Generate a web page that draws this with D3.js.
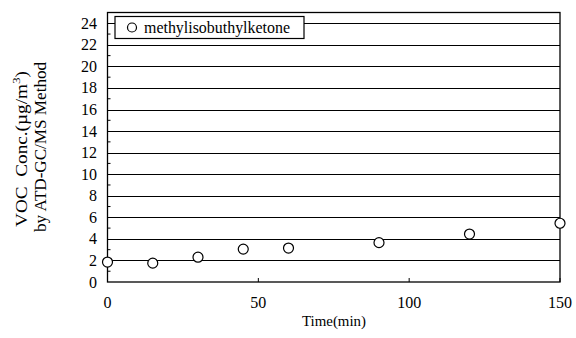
<!DOCTYPE html>
<html>
<head>
<meta charset="utf-8">
<script src="https://cdn.jsdelivr.net/npm/d3@7"></script>
<style>
body { margin:0; background:#fff; }
text { font-family: "Liberation Serif", "DejaVu Serif", serif; fill:#000; }
</style>
</head>
<body>
<script>
// data
var times = [0, 15, 30, 45, 60, 90, 120, 150];
var conc = [1.85, 1.75, 2.3, 3.05, 3.15, 3.65, 4.45, 5.45];
var yTicks = [0, 2, 4, 6, 8, 10, 12, 14, 16, 18, 20, 22, 24];
var xTicks = [0, 50, 100, 150];
var seriesName = "methylisobuthylketone";

var w = 576, h = 338;
var svg = d3.select("body").append("svg").attr("width", w).attr("height", h);

var x = d3.scaleLinear().domain([0, 150]).range([107.5, 560]);
var y = d3.scaleLinear().domain([0, 25]).range([282, 12.5]);

// gridlines
svg.selectAll("line.grid")
   .data(yTicks.filter(function(d){ return d > 0; }))
   .enter().append("line")
   .attr("x1", x(0)).attr("x2", x(150))
   .attr("y1", function(d){ return Math.round(y(d)) + 0.5; })
   .attr("y2", function(d){ return Math.round(y(d)) + 0.5; })
   .style("stroke", "#000").style("stroke-width", 1);

// frame
svg.append("rect")
   .attr("x", x(0)).attr("y", y(25))
   .attr("width", x(150) - x(0)).attr("height", y(0) - y(25))
   .style("fill", "none").style("stroke", "#000").style("stroke-width", 1.3);

// y axis labels
svg.selectAll("text.ytick")
   .data(yTicks)
   .enter().append("text")
   .attr("x", 97)
   .attr("y", function(d){ return y(d) + 5.5; })
   .attr("text-anchor", "end")
   .style("font-size", "16px")
   .text(function(d){ return d; });

// minor ticks on y axis
svg.selectAll("line.ymin")
   .data(d3.range(1, 25, 2))
   .enter().append("line")
   .attr("x1", x(0)).attr("x2", x(0) + 3)
   .attr("y1", function(d){ return y(d); })
   .attr("y2", function(d){ return y(d); })
   .style("stroke", "#000");

// x axis labels + inner ticks
svg.selectAll("text.xtick")
   .data(xTicks)
   .enter().append("text")
   .attr("x", function(d){ return x(d); })
   .attr("y", 308)
   .attr("text-anchor", "middle")
   .style("font-size", "16px")
   .text(function(d){ return d; });

svg.selectAll("line.xt")
   .data(xTicks)
   .enter().append("line")
   .attr("x1", function(d){ return x(d); }).attr("x2", function(d){ return x(d); })
   .attr("y1", y(0)).attr("y2", y(0) - 4)
   .style("stroke", "#000");

// axis titles
svg.append("text")
   .attr("x", 334).attr("y", 326)
   .attr("text-anchor", "middle")
   .attr("textLength", 64).attr("lengthAdjust", "spacingAndGlyphs")
   .style("font-size", "15px")
   .text("Time(min)");

var t1 = svg.append("text")
   .attr("transform", "translate(27,149) rotate(-90)")
   .attr("text-anchor", "middle")
   .attr("textLength", 156).attr("lengthAdjust", "spacingAndGlyphs")
   .style("font-size", "16px");
t1.append("tspan").text("VOC\u00a0\u00a0Conc.(\u00b5g/m");
t1.append("tspan").attr("dy", -7).style("font-size", "11px").text("3");
t1.append("tspan").attr("dy", 7).text(")");

svg.append("text")
   .attr("transform", "translate(46,147) rotate(-90)")
   .attr("text-anchor", "middle")
   .attr("textLength", 170).attr("lengthAdjust", "spacingAndGlyphs")
   .style("font-size", "16px")
   .text("by ATD-GC/MS Method");

// points
svg.selectAll("circle.pt")
   .data(times)
   .enter().append("circle")
   .attr("cx", function(d){ return x(d); })
   .attr("cy", function(d, i){ return y(conc[i]); })
   .attr("r", 5)
   .style("fill", "#fff").style("stroke", "#000").style("stroke-width", 1.2);

// legend
var lg = svg.append("g");
lg.append("rect")
   .attr("x", 115).attr("y", 16.5).attr("width", 189).attr("height", 22)
   .style("fill", "#fff").style("stroke", "#000").style("stroke-width", 1.2);
lg.append("circle")
   .attr("cx", 132).attr("cy", 27.5).attr("r", 4.5)
   .style("fill", "#fff").style("stroke", "#000").style("stroke-width", 1.2);
lg.append("text")
   .attr("x", 144).attr("y", 32.5)
   .attr("textLength", 146).attr("lengthAdjust", "spacingAndGlyphs")
   .style("font-size", "16px")
   .text(seriesName);
</script>
</body>
</html>
